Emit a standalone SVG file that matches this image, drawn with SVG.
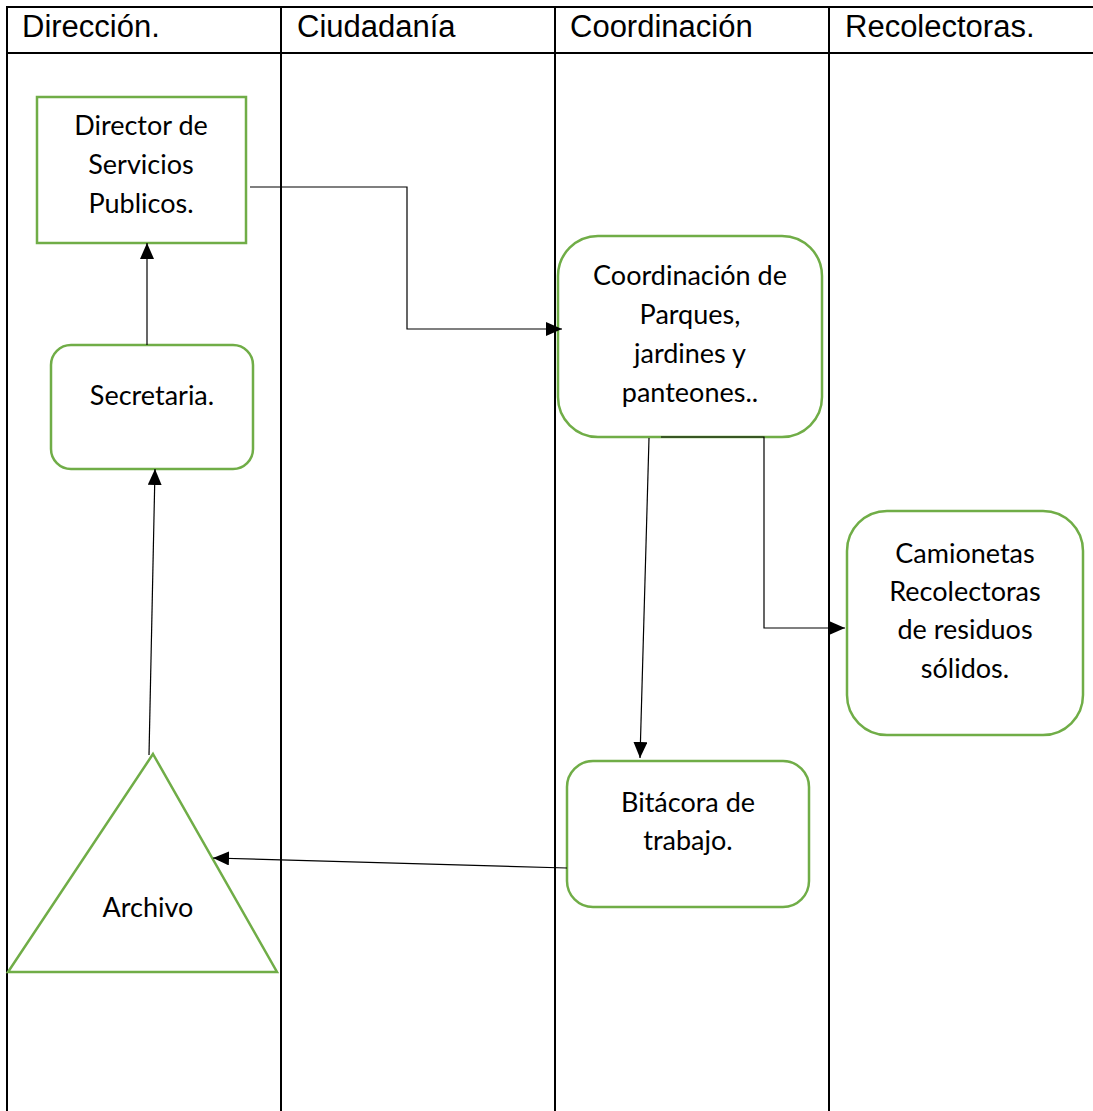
<svg xmlns="http://www.w3.org/2000/svg" width="1093" height="1111" viewBox="0 0 1093 1111">
<defs>
<style>
.grid{stroke:#000;stroke-width:2;fill:none}
.hdr{font-family:"Liberation Sans",Arial,sans-serif;font-size:31px;fill:#000}
.node{fill:#fff;stroke:#70AD47;stroke-width:2.5}
.lbl{font-family:Lato,"Open Sans",sans-serif;font-size:27px;fill:#000;text-anchor:middle}
.conn{stroke:#000;stroke-width:1.2;fill:none}
</style>
<marker id="ah" markerUnits="userSpaceOnUse" markerWidth="17" markerHeight="15" refX="16" refY="7" orient="auto">
<path d="M0,0 L16,7 L0,14 z" fill="#000"/>
</marker>
</defs>
<rect width="1093" height="1111" fill="#fff"/>
<g id="table">
<line class="grid" x1="7" y1="7" x2="1093" y2="7"/>
<line class="grid" x1="7" y1="53" x2="1093" y2="53"/>
<line class="grid" x1="7" y1="6" x2="7" y2="1111"/>
<line class="grid" x1="281" y1="6" x2="281" y2="1111"/>
<line class="grid" x1="555" y1="6" x2="555" y2="1111"/>
<line class="grid" x1="829" y1="6" x2="829" y2="1111"/>
<text class="hdr" x="22" y="37">Dirección.</text>
<text class="hdr" x="297" y="37">Ciudadanía</text>
<text class="hdr" x="570" y="37">Coordinación</text>
<text class="hdr" x="845" y="37">Recolectoras.</text>
</g>
<g id="director">
<rect class="node" x="37" y="97" width="209" height="146"/>
<text class="lbl" x="141" y="135">Director de</text>
<text class="lbl" x="141" y="174">Servicios</text>
<text class="lbl" x="141" y="213">Publicos.</text>
</g>
<g id="secretaria">
<rect class="node" x="51" y="345" width="202" height="124" rx="20"/>
<text class="lbl" x="152" y="405">Secretaria.</text>
</g>
<g id="coordinacion">
<rect class="node" x="558" y="236" width="264" height="201" rx="40"/>
<text class="lbl" x="690" y="285">Coordinación de</text>
<text class="lbl" x="690" y="324">Parques,</text>
<text class="lbl" x="690" y="363">jardines y</text>
<text class="lbl" x="690" y="402">panteones..</text>
</g>
<g id="camionetas">
<rect class="node" x="847" y="511" width="236" height="224" rx="40"/>
<text class="lbl" x="965" y="563">Camionetas</text>
<text class="lbl" x="965" y="601">Recolectoras</text>
<text class="lbl" x="965" y="639">de residuos</text>
<text class="lbl" x="965" y="678">sólidos.</text>
</g>
<g id="bitacora">
<rect class="node" x="567" y="761" width="242" height="146" rx="26"/>
<text class="lbl" x="688" y="812">Bitácora de</text>
<text class="lbl" x="688" y="850">trabajo.</text>
</g>
<g id="archivo">
<polygon class="node" points="153,754 277,972 8,972"/>
<text class="lbl" x="148" y="917">Archivo</text>
</g>
<g id="connectors">
<polyline class="conn" points="250,187 407,187 407,329 562,329" marker-end="url(#ah)"/>
<line class="conn" x1="147" y1="345" x2="147" y2="243" marker-end="url(#ah)"/>
<line class="conn" x1="649" y1="438" x2="640" y2="758" marker-end="url(#ah)"/>
<polyline class="conn" points="661,437 764,437 764,628 845,628" marker-end="url(#ah)"/>
<line class="conn" x1="567" y1="868" x2="213" y2="858" marker-end="url(#ah)"/>
<line class="conn" x1="149" y1="755" x2="155" y2="469" marker-end="url(#ah)"/>
</g>
</svg>
